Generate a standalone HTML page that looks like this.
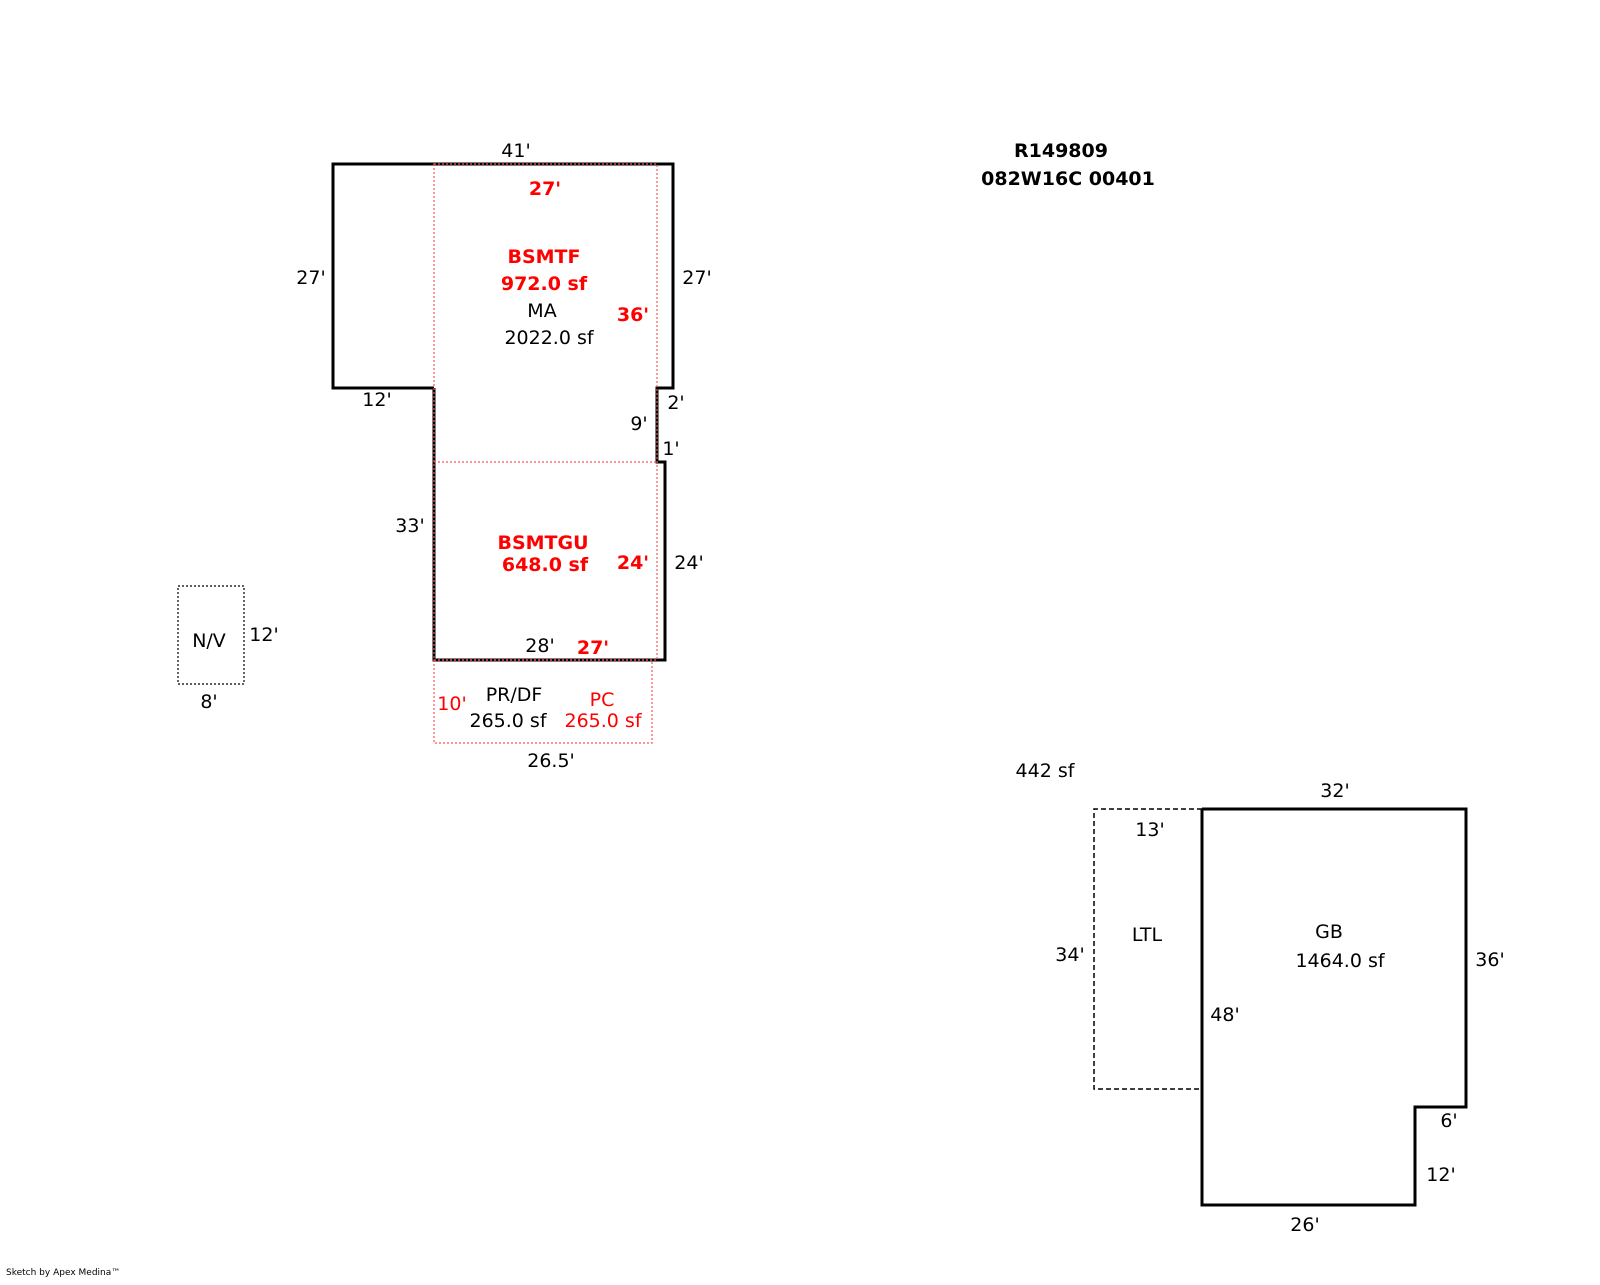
<!DOCTYPE html>
<html><head><style>html,body{margin:0;padding:0;background:#fff}</style></head><body>
<svg width="1600" height="1280" viewBox="0 0 1600 1280" xmlns="http://www.w3.org/2000/svg" font-family="DejaVu Sans, Verdana, sans-serif" font-size="19">
<g fill="none" stroke="#000" stroke-width="3">
<polyline points="434,388 333,388 333,164 673,164 673,388 657,388 657,462 665,462 665,660 434,660 434,388"/>
<polyline points="1202,809 1466,809 1466,1107 1415,1107 1415,1205 1202,1205 1202,809"/>
</g>
<g fill="none" stroke="#f55" stroke-width="1.2" stroke-dasharray="2,2">
<rect x="434" y="164" width="223" height="496"/>
<line x1="434" y1="462" x2="657" y2="462"/>
<rect x="434" y="660" width="218" height="83"/>
</g>
<rect x="178" y="586" width="66" height="98" fill="none" stroke="#000" stroke-width="1.2" stroke-dasharray="2,2"/>
<polyline points="1202,809 1094,809 1094,1089 1202,1089" fill="none" stroke="#000" stroke-width="1.5" stroke-dasharray="5,3"/>
<g text-anchor="middle" dominant-baseline="central" fill="#000">
<text x="516" y="151">41'</text>
<text x="542" y="311">MA</text>
<text x="549" y="338">2022.0 sf</text>
<text x="311" y="278">27'</text>
<text x="697" y="278">27'</text>
<text x="377" y="400">12'</text>
<text x="676" y="403">2'</text>
<text x="639" y="424">9'</text>
<text x="671" y="449">1'</text>
<text x="410" y="526">33'</text>
<text x="689" y="563">24'</text>
<text x="540" y="646">28'</text>
<text x="514" y="695">PR/DF</text>
<text x="508" y="721">265.0 sf</text>
<text x="551" y="761">26.5'</text>
<text x="209" y="641">N/V</text>
<text x="264" y="635">12'</text>
<text x="209" y="702">8'</text>
<text x="1061" y="151" font-weight="bold">R149809</text>
<text x="1068" y="179" font-weight="bold">082W16C 00401</text>
<text x="1045" y="771">442 sf</text>
<text x="1335" y="791">32'</text>
<text x="1150" y="830">13'</text>
<text x="1147" y="935">LTL</text>
<text x="1070" y="955">34'</text>
<text x="1329" y="932">GB</text>
<text x="1340" y="961">1464.0 sf</text>
<text x="1490" y="960">36'</text>
<text x="1225" y="1015">48'</text>
<text x="1449" y="1121">6'</text>
<text x="1441" y="1175">12'</text>
<text x="1305" y="1225">26'</text>
</g>
<g text-anchor="middle" dominant-baseline="central" fill="#f00">
<g font-weight="bold">
<text x="545" y="189">27'</text>
<text x="544" y="257">BSMTF</text>
<text x="544" y="284">972.0 sf</text>
<text x="633" y="315">36'</text>
<text x="543" y="543">BSMTGU</text>
<text x="545" y="565">648.0 sf</text>
<text x="633" y="563">24'</text>
<text x="593" y="648">27'</text>
</g>
<text x="452" y="704">10'</text>
<text x="602" y="700">PC</text>
<text x="603" y="721">265.0 sf</text>
</g>
<text x="6" y="1275" font-size="9" fill="#000">Sketch by Apex Medina™</text>
</svg>
</body></html>
